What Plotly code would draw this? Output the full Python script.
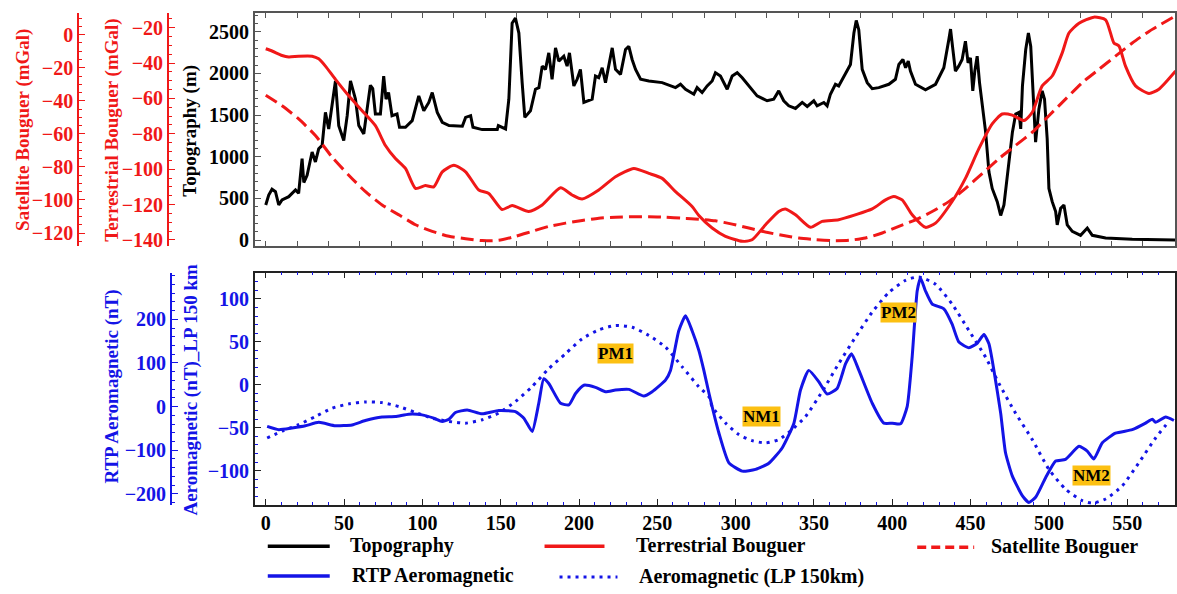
import plotly.graph_objects as go

# ---------------- profile data (distance in km) ----------------
topo_x = [0, 1.9, 4, 6.2, 8.3, 10.4, 14.7, 19, 21, 23.2, 24.3, 26.4, 29.6, 31.7, 33.8, 36, 38.1, 40.2,
          44.5, 46.6, 49.8, 52, 54.1, 57.3, 59.4, 62.6, 64.7, 66.8, 68.3, 70, 73.2, 75.3, 76.8, 78.4,
          80.6, 83.8, 85.4, 89.2, 93.5, 97.7, 100.9, 104.1, 106.3, 109.5, 112.7, 117, 125.5, 127.6,
          130.8, 132.3, 138.2, 147.8, 148.5, 153.1, 155.2, 157.3, 159.4, 161.6, 163.7, 165.4, 169,
          172.2, 174.4, 176.5, 178.6, 180.7, 182.8, 185, 187.1, 190.3, 192.4, 193.9, 196.7, 198.8,
          200.9, 203.1, 208.4, 210.5, 212.6, 214.8, 216.9, 219, 221.2, 223.3, 226.5, 229.7, 231.8,
          233.9, 236.1, 239.3, 244.6, 253.1, 261.6, 264.8, 268, 273.3, 275.4, 278.6, 281.8, 285,
          287.1, 290.3, 294.6, 297.8, 301, 304.2, 308.4, 313.7, 320.1, 324.3, 327.5, 330.7, 333.9,
          338.2, 342.5, 345.7, 349.9, 352, 356.3, 358.4, 360.5, 363.7, 365.8, 370.1, 373.3, 375.5,
          377, 378.6, 380.8, 384, 387.2, 391.4, 397.8, 402, 404.2, 406.8, 408.5, 410.2, 411.6, 414.8,
          421.2, 427.6, 432.9, 436.1, 437.2, 438.7, 440.3, 442.4, 444.6, 446.7, 448.4, 449.9, 451.4,
          452.7, 454.2, 455.7, 457.4, 459.6, 461.7, 463.8, 467, 469.2, 471.3, 474.5, 476.7, 478.8,
          480.9, 482, 483.1, 485.2, 486.9, 488.4, 489.9, 491.5, 493.6, 495.7, 497.2, 498.9, 500,
          502.1, 504.3, 505.3, 507.5, 509.6, 511.7, 514.9, 520.2, 524.5, 527.7, 536.2, 553.2, 580.9]
topo_m = [420, 540, 610, 580, 420, 480, 520, 600, 560, 976, 690, 777, 1056, 937, 1095, 1135, 1532, 1333,
          1909, 1373, 1194, 1492, 1909, 1690, 1373, 1274, 1571, 1857, 1817, 1512, 1512, 1968, 1690, 1770,
          1492, 1512, 1353, 1353, 1432, 1730, 1551, 1651, 1770, 1532, 1413, 1373, 1365, 1472,
          1492, 1353, 1325, 1325, 1373, 1333, 1690, 2603, 2663, 2484, 1889, 1472, 1551,
          1810, 1829, 2087, 2048, 2246, 1929, 2306, 2147, 2206, 2087, 2246, 1849, 1929,
          2048, 1651, 1690, 1968, 1948, 2067, 1889, 2087, 2306, 2048, 1988, 2286, 2325,
          2167, 2048, 1929, 1909, 1889, 1829, 1869, 1810, 1750, 1829, 1770, 1849, 1909,
          2008, 1968, 1810, 1968, 2008, 1948, 1849, 1730, 1671, 1690, 1790, 1671, 1611,
          1579, 1651, 1603, 1671, 1611, 1651, 1611, 1750, 1869, 1849, 1988, 2107, 2484,
          2635, 2524, 2048, 1889, 1817, 1829, 1869, 1929, 2107, 2167, 2067, 2147, 2028, 1869,
          1802, 1869, 2067, 2405, 2532, 2286, 2028, 2087, 2167, 2385, 2127, 2187, 1790,
          2028, 2206, 1889, 1651, 1294, 818, 619, 460, 294, 420, 897, 1294, 1512,
          1532, 1333, 1849, 2286, 2484, 2325, 1810, 1175, 1571, 1790, 1690, 1214, 619,
          460, 341, 182, 380, 420, 182, 103, 56, 143, 56, 24, 8, 0]

terr_x = [0, 4.3, 10.4, 14.7, 21, 29.6, 33.8, 38.1, 44.5, 53, 61.5, 70, 76.4, 82.8, 89.2, 95.6, 101.9,
          107.3, 112.7, 120.1, 127.6, 136, 142.4, 150.9, 157.3, 167.9, 176.5, 188.2, 195.6, 202, 212.6,
          223.3, 235, 244.6, 253.1, 261.6, 272.2, 276.5, 285, 293.5, 304.2, 310.5, 319.1, 327.5, 331.8,
          338.2, 347.8, 355.2, 365.8, 376.5, 387.2, 395.7, 401, 406.3, 412.7, 421.2, 427.6, 438.2,
          446.7, 455.3, 463.8, 470.2, 476.6, 484.1, 489.4, 495.7, 502.1, 508.5, 512.8, 519.2, 528.7,
          536.2, 541.5, 544.7, 548.9, 555.3, 563.9, 570.2, 580.9]
terr_mgal = [-31.9, -33.3, -35.7, -36.5, -36.1, -36.1, -37.6, -41.7, -49.2, -58.5, -66.9, -75.4, -86.6,
             -94, -99.6, -110.9, -109.3, -110, -101.5, -97.8, -101.5, -111.8, -113.7, -122.8, -120.6,
             -123.9, -120.2, -110.5, -114.6, -116.9, -111.8, -104.3, -99.6, -102.4, -105.2, -112.7,
             -121.1, -126.2, -133.3, -138, -140.8, -139.9, -131.4, -123.9, -122.5, -125.8, -132.9,
             -129.5, -128.6, -125.8, -122.5, -117.4, -115.5, -117.4, -125.8, -132.9, -130.5, -118.3,
             -105.2, -88.4, -74.4, -68.8, -69.4, -72.5, -67.8, -52.9, -47.3, -34.2, -23, -17.4, -14,
             -15.5, -28.6, -30.3, -41.7, -52.9, -57.2, -54.8, -44.5]

sat_x = [0, 10.4, 21, 31.7, 42.3, 53, 63.7, 74.3, 85, 95.6, 106.3, 117, 127.6, 138.2, 148.8, 159.4,
         170, 180.7, 191.4, 202, 212.6, 223.3, 233.9, 244.6, 255.2, 265.8, 276.5, 287.1, 297.8, 308.4,
         319, 329.7, 340.3, 351, 361.6, 372.3, 382.9, 393.6, 404.2, 414.9, 425.5, 436.1, 446.8, 457.4,
         468.1, 478.7, 489.4, 500, 510.6, 521.3, 531.9, 542.5, 553.2, 563.9, 580.9]
sat_mgal = [-36.6, -43, -51, -61, -74, -85, -95, -103, -109, -115, -119, -122, -123.4, -124.6, -124.4,
            -122, -119, -116, -114, -112.4, -111, -110.4, -110.2, -110.2, -110.4, -111, -111.6, -112.6,
            -114.6, -117, -119.4, -121.4, -123, -124, -124.6, -124.4, -123, -120, -116, -112, -107,
            -101, -93, -84, -75, -67, -59, -49, -39, -29, -21, -13, -5, 2, 11.4]

rtp_x = [0.9, 8.3, 16.8, 25.3, 33.8, 44.5, 55.1, 63.6, 74.3, 82.8, 91.3, 99.8, 107.3, 112.6, 116.9,
         121.1, 128.6, 138.1, 148.8, 159.4, 164.8, 170.1, 174.3, 177.5, 180.7, 188.2, 193.5, 197.8,
         203.1, 210.5, 216.9, 223.3, 231.8, 241.4, 246.7, 255.2, 258.4, 263.7, 268, 272.2, 276.5,
         279.7, 283, 289.3, 295.7, 304.2, 312.7, 321.2, 329.7, 337.2, 341.4, 346.7, 353.1, 358.4,
         364.8, 370.2, 374, 378.7, 387.2, 394.6, 400, 405.3, 409.5, 412.7, 415.9, 418, 421.2, 425.5,
         432.9, 438.2, 442.5, 448.9, 454.2, 458.5, 461.7, 464.9, 469.2, 472.3, 476.6, 483, 487.2,
         491.5, 497.9, 504.3, 510.6, 519.2, 524.5, 528.7, 534.1, 542.5, 553.2, 561.7, 566, 568.1,
         574.5, 579.8]
rtp_nt = [-45.5, -53, -49, -44, -36, -44, -42, -32, -24, -23, -17.5, -19, -26.5, -34, -29, -13.6, -7.6,
          -16.7, -9, -11.4, -26.5, -57, 7.6, 64, 53, 7.6, 3.8, 30, 49, 44, 34, 38, 39.5, 24, 34, 60.6,
          83, 174, 208, 174, 129, 83, 30, -60.6, -129, -148, -144, -130, -95, -38, 38, 83, 57, 29,
          41.6, 98.5, 121, 83, 7.6, -38, -38, -39.5, 0, 114, 265, 295, 265, 235, 224, 189, 148, 135,
          145, 165, 144, 83, -15, -106, -159, -204, -220, -208, -163, -125, -121, -91, -102, -120,
          -83, -61, -53, -38, -29, -36, -24, -32]

lp_x = [0.9, 10.4, 21, 31.7, 42.4, 53, 63.7, 74.3, 85, 95.6, 106.2, 116.9, 127.5, 138.2, 148.8, 159.4,
        170, 180.7, 191.3, 202, 212.6, 223.3, 233.9, 244.6, 255.2, 265.9, 276.5, 282.9, 285, 293.6,
        302, 310.5, 319, 327.5, 336, 344.6, 355.2, 365.8, 376.5, 387.1, 397.8, 408.4, 416.9, 427.6,
        438.2, 448.9, 459.5, 468.1, 478.7, 489.4, 500, 510.6, 521.3, 527.7, 536.2, 546.8, 557.4,
        568.1, 576.6]
lp_nt = [-62, -54, -46.5, -37, -27.3, -22.3, -20, -20.8, -25.4, -32.3, -38.9, -42.7, -44.7, -40.8, -33,
         -19.6, -2.3, 18.8, 36, 53.5, 63.9, 69, 67, 57.4, 43.9, 20.8, -2.3, -13.9, -25.4, -44.7, -58,
         -65, -67.8, -63.9, -52.3, -37, -8, 24.6, 55.4, 84.3, 107.4, 121.6, 125.5, 117, 93.9, 63.2,
         32.3, 1.5, -33.1, -63.9, -98.5, -121.6, -135, -137.8, -133, -117.8, -90.9, -62, -42.7]

anomaly_labels = ["PM1", "NM1", "PM2", "NM2"]
anomaly_x = [223.5, 316.7, 404, 527]
anomaly_y = [36, -37, 84, -106]

rtp_ticks = [-200, -100, 0, 100, 200]

# ---------------- styling ----------------
RED = "#F01818"
BLUE = "#1414E6"
FRAME = "#555555"
FONT = "Liberation Serif"
W, H = 1177, 594
X0, X1 = 255 / W, 1176 / W
TOP_DOM = [1 - 248 / H, 1 - 13 / H]
BOT_DOM = [1 - 509 / H, 1 - 275 / H]
XR = [-7, 580.5]
TICK_SIZE = 20


def bold(size, color):
    return dict(family=FONT, size=size, color=color, weight="bold")


fig = go.Figure()

fig.add_trace(go.Scatter(x=topo_x, y=topo_m, mode="lines", name="Topography",
                         line=dict(color="black", width=3), xaxis="x", yaxis="y"))
fig.add_trace(go.Scatter(x=terr_x, y=terr_mgal, mode="lines", name="Terrestrial Bouguer",
                         line=dict(color=RED, width=3, shape="spline", smoothing=0.6),
                         xaxis="x", yaxis="y2"))
fig.add_trace(go.Scatter(x=sat_x, y=sat_mgal, mode="lines", name="Satellite Bouguer",
                         line=dict(color=RED, width=3, dash="13px,6px", shape="spline", smoothing=0.6),
                         xaxis="x", yaxis="y3"))
fig.add_trace(go.Scatter(x=lp_x, y=lp_nt, mode="lines", name="Aeromagnetic (LP 150km)",
                         line=dict(color=BLUE, width=3, dash="3px,5px", shape="spline", smoothing=0.6),
                         xaxis="x2", yaxis="y4"))
fig.add_trace(go.Scatter(x=rtp_x, y=rtp_nt, mode="lines", name="RTP Aeromagnetic",
                         line=dict(color=BLUE, width=3, shape="spline", smoothing=0.5),
                         xaxis="x2", yaxis="y5"))

common_x = dict(domain=[X0, X1], range=XR, showgrid=False, zeroline=False, showline=True,
                linewidth=1.5, ticks="inside")

fig.update_layout(
    width=W, height=594,
    margin=dict(l=0, r=0, t=0, b=0),
    paper_bgcolor="white", plot_bgcolor="white",
    showlegend=False,
    xaxis=dict(**common_x, anchor="y", linecolor=FRAME, tickcolor=FRAME, ticklen=5,
               tick0=0, dtick=20, showticklabels=False, mirror="ticks"),
    yaxis=dict(domain=TOP_DOM, range=[-71, 2726], anchor="x", side="left", showgrid=False,
               zeroline=False, showline=True, linecolor=FRAME, linewidth=1.5, mirror=True,
               ticks="inside", ticklen=6, tickcolor=FRAME, tick0=0, dtick=500,
               minor=dict(ticks="inside", dtick=100, ticklen=3, tickcolor=FRAME),
               tickfont=bold(TICK_SIZE, "black")),
    yaxis2=dict(overlaying="y", anchor="free", position=168 / W, side="left",
                range=[-143.4, -11.6], showgrid=False, zeroline=False, showline=True,
                linecolor=RED, linewidth=1.5, ticks="inside", ticklen=6, tickcolor=RED,
                tick0=0, dtick=20, minor=dict(ticks="inside", dtick=5, ticklen=3, tickcolor=RED),
                tickfont=bold(TICK_SIZE, RED)),
    yaxis3=dict(overlaying="y", anchor="free", position=78 / W, side="left",
                range=[-127.8, 13.2], showgrid=False, zeroline=False, showline=True,
                linecolor=RED, linewidth=1.5, ticks="inside", ticklen=6, tickcolor=RED,
                tick0=0, dtick=20, minor=dict(ticks="inside", dtick=5, ticklen=3, tickcolor=RED),
                tickfont=bold(TICK_SIZE, RED)),
    xaxis2=dict(**common_x, anchor="y4", linecolor="#222222", tickcolor="#222222", ticklen=6,
                tick0=0, dtick=50, mirror="ticks",
                minor=dict(ticks="inside", dtick=10, ticklen=3, tickcolor=BLUE),
                tickfont=bold(TICK_SIZE, "black")),
    yaxis4=dict(domain=BOT_DOM, range=[-139.7, 130.5], anchor="x2", side="left", showgrid=False,
                zeroline=False, showline=True, linecolor="#222222", linewidth=1.5, mirror=True,
                ticks="inside", ticklen=6, tickcolor="#222222", tick0=0, dtick=50,
                minor=dict(ticks="inside", dtick=10, ticklen=3, tickcolor=BLUE),
                tickfont=bold(TICK_SIZE, BLUE)),
    yaxis5=dict(overlaying="y4", anchor="free", position=171 / W, side="left",
                range=[-225, 307], showgrid=False, zeroline=False, showline=True,
                linecolor=BLUE, linewidth=1.5, ticks="inside", ticklen=6, tickcolor=BLUE,
                tickmode="array", tickvals=rtp_ticks,
                minor=dict(ticks="inside", tickmode="linear", tick0=0, dtick=20, ticklen=3,
                           tickcolor=BLUE),
                tickfont=bold(TICK_SIZE, BLUE)),
)

# axis titles
titles = [
    ("Satellite Bouguer (mGal)", 23, 131, RED),
    ("Terrestrial Bouguer (mGal)", 112, 131, RED),
    ("Topography (m)", 190, 132, "black"),
    ("RTP Aeromagnetic (nT)", 112, 390, BLUE),
    ("Aeromagnetic (nT)_LP 150 km", 191, 393, BLUE),
]
for text, px, py, col in titles:
    fig.add_annotation(text=text, x=px / W, y=1 - py / H, xref="paper", yref="paper",
                       showarrow=False, textangle=-90, font=bold(19, col),
                       xanchor="center", yanchor="middle")

# anomaly labels
for lab, ax_, ay_ in zip(anomaly_labels, anomaly_x, anomaly_y):
    fig.add_annotation(text=lab, x=ax_, y=ay_, xref="x2", yref="y4", showarrow=False,
                       font=bold(17, "black"), bgcolor="#FCC012", borderpad=0)

# legend keys
legend_items = [
    ("Topography", 268, 330, 551, 348, dict(color="black", width=3.5)),
    ("Terrestrial Bouguer", 545, 605, 551, 635, dict(color=RED, width=3.5)),
    ("Satellite Bouguer", 918, 975, 552, 990, dict(color=RED, width=3.5, dash="9px,5px")),
    ("RTP Aeromagnetic", 268, 330, 581, 350, dict(color=BLUE, width=3.5)),
    ("Aeromagnetic (LP 150km)", 560, 618, 582, 638, dict(color=BLUE, width=3, dash="3px,5px")),
]
for text, lx0, lx1, ly, tx, lstyle in legend_items:
    fig.add_shape(type="line", xref="paper", yref="paper", x0=lx0 / W, x1=lx1 / W,
                  y0=1 - ly / H, y1=1 - ly / H, line=lstyle)
    fig.add_annotation(text=text, x=tx / W, y=1 - (ly - 1) / H, xref="paper", yref="paper",
                       showarrow=False, xanchor="left", yanchor="middle", font=bold(20, "black"))

fig.write_html("out.html")
